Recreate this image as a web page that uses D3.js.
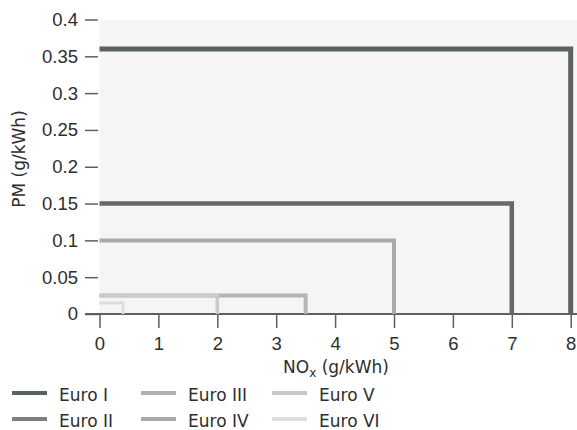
<!DOCTYPE html>
<html>
<head>
<meta charset="utf-8">
<script src="https://cdn.jsdelivr.net/npm/d3@7"></script>
<style>
  html, body { margin: 0; padding: 0; background: #ffffff; }
  svg { display: block; font-family: "DejaVu Sans", "Liberation Sans", Arial, sans-serif; }
</style>
</head>
<body>
<svg id="chart" width="577" height="430"></svg>
<script>
// Data: Euro standards limits (NOx, PM in g/kWh)
const standards = ["Euro I", "Euro II", "Euro III", "Euro IV", "Euro V", "Euro VI"];
const noxLimits = [8.0, 7.0, 5.0, 3.5, 2.0, 0.4];
const pmLimits  = [0.36, 0.15, 0.10, 0.025, 0.025, 0.015];
const xTicks = [0, 1, 2, 3, 4, 5, 6, 7, 8];
const yTicks = [0, 0.05, 0.1, 0.15, 0.2, 0.25, 0.3, 0.35, 0.4];

const colors = ["#5b625e", "#646b67", "#a9aaa9", "#b4b5b4", "#c9cac9", "#dcdddc"];
const legendColors = ["#5b625e", "#7d807e", "#b0b1b0", "#a8a9a8", "#c6c7c6", "#dedfde"];
const widths = [5, 4.5, 4, 4, 3.5, 3];

const svg = d3.select("#chart");
const x = d3.scaleLinear().domain([0, 8]).range([99.5, 570.7]);
const y = d3.scaleLinear().domain([0, 0.4]).range([314, 19.5]);

// plot background
svg.append("rect")
  .attr("x", x(0)).attr("y", y(0.4))
  .attr("width", 577 - x(0)).attr("height", y(0) - y(0.4))
  .attr("fill", "#f5f5f5");

// x axis
const xAxis = svg.append("g").attr("transform", `translate(0,${y(0)})`)
  .call(d3.axisBottom(x).tickValues(xTicks).tickFormat(d3.format("d")).tickSize(14).tickPadding(9).tickSizeOuter(0));
xAxis.select(".domain").remove();
xAxis.append("line").attr("x1", 85).attr("x2", 577).attr("y1", 0).attr("y2", 0)
  .attr("stroke", "#5b625e").attr("stroke-width", 2);
xAxis.selectAll(".tick line").attr("stroke", "#5b625e").attr("stroke-width", 1.5);
xAxis.selectAll(".tick text").attr("fill", "#2e2e2e").attr("font-size", 18.5).attr("font-family", null);

// y axis (ticks only, to left, with gap)
const yAxis = svg.append("g").attr("transform", `translate(${x(0) - 1.5},0)`)
  .call(d3.axisLeft(y).tickValues(yTicks).tickFormat(d => d === 0 ? "0" : String(+d.toFixed(2))).tickSize(13).tickPadding(7).tickSizeOuter(0));
yAxis.select(".domain").remove();
yAxis.selectAll(".tick line").attr("stroke", "#5b625e").attr("stroke-width", 1.5);
yAxis.selectAll(".tick text").attr("fill", "#2e2e2e").attr("font-size", 18.5).attr("font-family", null);

// standards boxes (draw largest first)
const data = standards.map((s, i) => ({ name: s, nox: noxLimits[i], pm: pmLimits[i], color: colors[i], w: widths[i], lc: legendColors[i] }));
svg.append("g").selectAll("path").data(data).join("path")
  .attr("d", d => `M${x(0)},${y(d.pm)}H${x(d.nox)}V${y(0)}`)
  .attr("fill", "none")
  .attr("stroke", d => d.color)
  .attr("stroke-width", d => d.w)
  .attr("stroke-linejoin", "miter");

// axis titles
svg.append("text").attr("x", 336).attr("y", 373).attr("text-anchor", "middle")
  .attr("font-size", 17).attr("fill", "#2e2e2e")
  .html('NO<tspan font-size="12" dy="4">x</tspan><tspan dy="-4"> (g/kWh)</tspan>');
svg.append("text").attr("transform", "translate(25,159) rotate(-90)").attr("text-anchor", "middle")
  .attr("font-size", 17).attr("fill", "#2e2e2e").text("PM (g/kWh)");

// legend
const legX = [12, 141, 272];
const legY = [393, 419];
const leg = svg.append("g").selectAll("g").data(data).join("g")
  .attr("transform", (d, i) => `translate(${legX[Math.floor(i / 2)]},${legY[i % 2]})`);
leg.append("line").attr("x1", 0).attr("x2", 35).attr("y1", 0).attr("y2", 0)
  .attr("stroke", d => d.lc).attr("stroke-width", 4);
leg.append("text").attr("x", 47).attr("y", 7.5).attr("font-size", 17).attr("fill", "#2e2e2e").text(d => d.name);
</script>
</body>
</html>
